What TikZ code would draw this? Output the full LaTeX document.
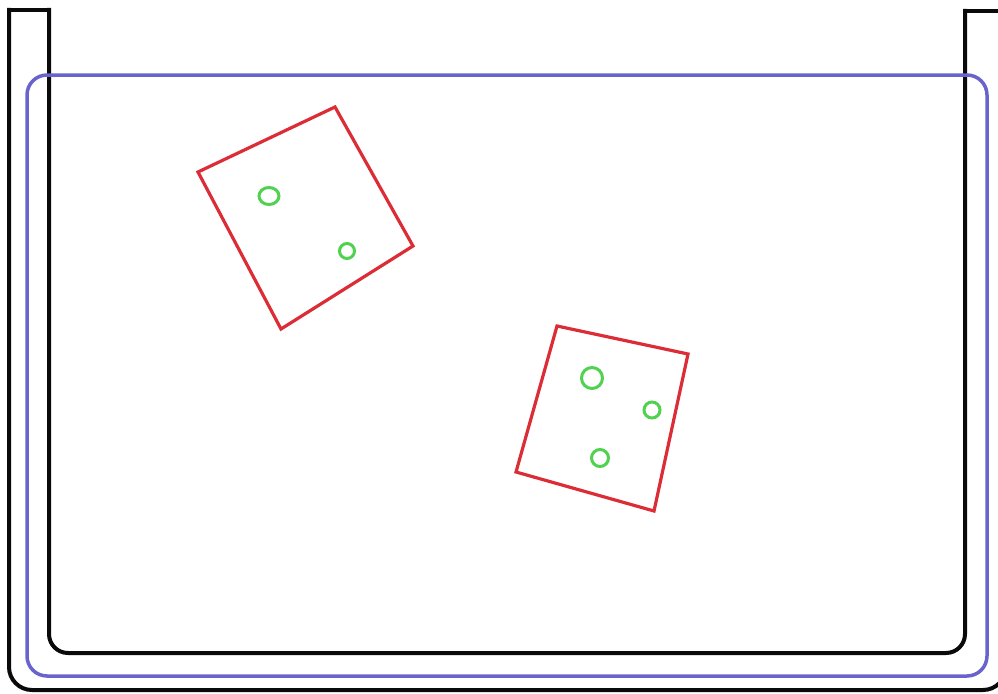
\documentclass[tikz,border=0pt]{standalone}
\definecolor{wallblack}{RGB}{10,10,10}
\definecolor{waterblue}{RGB}{105,100,205}
\definecolor{cubered}{RGB}{220,45,55}
\definecolor{bubblegreen}{RGB}{80,210,80}
\begin{document}
\begin{tikzpicture}[x=1pt,y=-1pt,
  wall/.style={draw=wallblack,line width=4pt,line cap=rect,line join=miter},
  water/.style={draw=waterblue,line width=3.5pt,rounded corners=20pt},
  cube/.style={draw=cubered,line width=3.2pt,line join=miter},
  bubble/.style={draw=bubblegreen,line width=3pt}]
\useasboundingbox (0,0) rectangle (998,693);
% container
\draw[wall,rounded corners=19pt] (49,10) -- (49,653) -- (965,653) -- (965,11);
\draw[wall,rounded corners=23pt] (9,10) -- (9,690) -- (1006,690) -- (1006,11);
\draw[wall] (9,10) -- (49,10);
\draw[wall] (965,11) -- (1006,11);
% water
\draw[water] (27,75) rectangle (987,676);
% cube 1
\coordinate (a1) at (198,172);
\coordinate (a2) at (335,107);
\coordinate (a3) at (413,246);
\coordinate (a4) at (281,329);
\draw[cube] (a1) -- (a2) -- (a3) -- (a4) -- cycle;
\draw[bubble] (269,196) ellipse[x radius=10pt,y radius=8.5pt];
\draw[bubble] (347,251) circle[radius=7.5pt];
% cube 2
\coordinate (b1) at (557,326);
\coordinate (b2) at (688,354);
\coordinate (b3) at (654,511);
\coordinate (b4) at (516,472);
\draw[cube] (b1) -- (b2) -- (b3) -- (b4) -- cycle;
\draw[bubble] (592,378) circle[radius=10.5pt];
\draw[bubble] (652,410) circle[radius=8pt];
\draw[bubble] (600,458) circle[radius=8.5pt];
\end{tikzpicture}
\end{document}
